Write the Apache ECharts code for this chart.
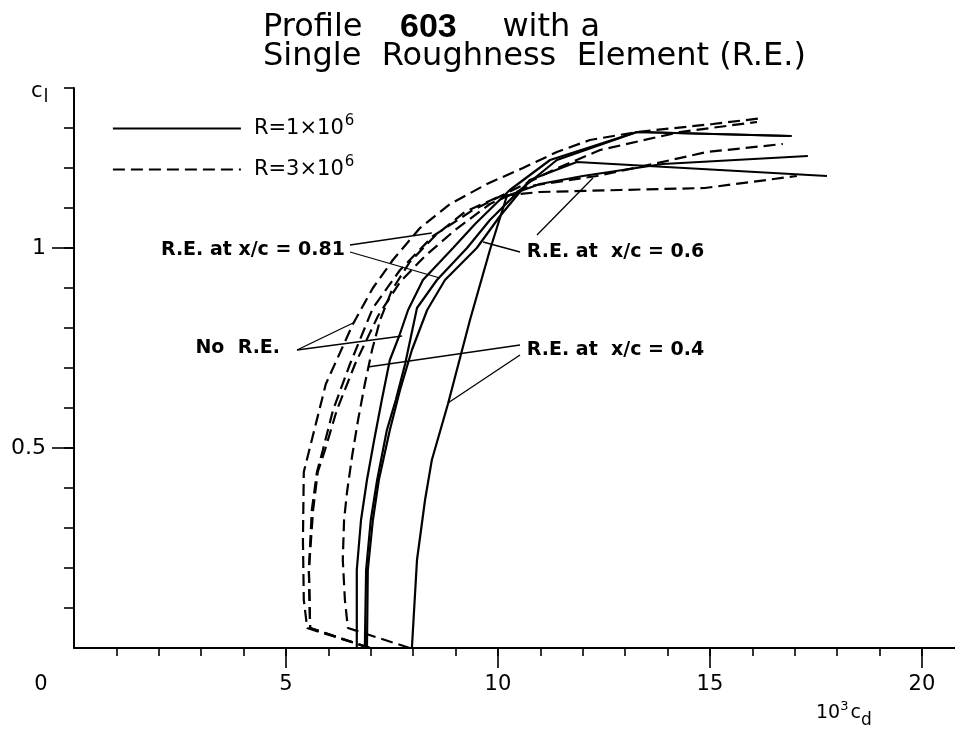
<!DOCTYPE html>
<html><head><meta charset="utf-8">
<script src="https://cdn.jsdelivr.net/npm/echarts@6/dist/echarts.min.js"></script>
<style>html,body{margin:0;padding:0;background:#fff}#c{width:955px;height:731px}</style>
</head><body><div id="c"></div>
<script>
// ---------- data (x = 10^3 c_d, y = c_l) ----------
const noRE_R1  = [[6.67,0],[6.67,0.195],[6.77,0.32],[6.91,0.42],[7.08,0.52],[7.26,0.62],[7.45,0.72],[7.67,0.78],[7.88,0.845],[8.23,0.92],[8.94,1.00],[9.46,1.06],[10.28,1.145],[11.23,1.22],[13.28,1.29],[16.93,1.28]];
const re081_R1 = [[6.86,0],[6.89,0.195],[7.00,0.32],[7.15,0.42],[7.38,0.545],[7.59,0.62],[7.81,0.71],[8.09,0.85],[8.56,0.92],[9.27,1.00],[9.81,1.07],[10.52,1.145],[11.39,1.22],[13.28,1.29],[16.86,1.28]];
const re06_R1  = [[6.91,0],[6.93,0.195],[7.05,0.32],[7.19,0.42],[7.45,0.545],[7.69,0.645],[7.97,0.745],[8.33,0.845],[8.75,0.92],[9.50,1.00],[10.05,1.08],[10.75,1.17],[11.86,1.215],[17.76,1.18]];
const re04_R1  = [[7.97,0],[8.09,0.22],[8.28,0.37],[8.44,0.47],[8.82,0.61],[9.34,0.82],[9.81,0.995],[10.21,1.13],[10.99,1.16],[12.00,1.18],[13.89,1.21],[17.31,1.23]];
const noRE_R3  = [[6.98,0],[5.50,0.05],[5.42,0.12],[5.40,0.27],[5.42,0.44],[5.94,0.66],[6.58,0.81],[7.05,0.90],[7.52,0.97],[8.16,1.05],[8.87,1.11],[9.74,1.16],[10.59,1.20],[11.39,1.24],[12.17,1.27],[13.28,1.29],[15.07,1.31],[16.25,1.325]];
const re081_R3 = [[6.98,0],[5.57,0.05],[5.54,0.195],[5.61,0.345],[5.73,0.44],[5.87,0.495],[6.11,0.595],[6.51,0.71],[7.05,0.85],[7.69,0.945],[8.47,1.03],[9.41,1.095],[10.35,1.145],[11.30,1.195],[12.41,1.245],[14.29,1.29],[16.11,1.315]];
const re06_R3  = [[6.98,0],[5.57,0.05],[5.54,0.195],[5.64,0.345],[5.75,0.44],[5.92,0.495],[6.20,0.595],[6.63,0.71],[7.17,0.83],[7.69,0.915],[8.28,0.98],[8.99,1.045],[9.81,1.11],[10.75,1.155],[12.33,1.18],[13.66,1.21],[14.93,1.24],[16.72,1.26]];
const re04_R3  = [[7.92,0],[6.46,0.05],[6.39,0.12],[6.34,0.22],[6.37,0.32],[6.44,0.39],[6.56,0.48],[6.70,0.57],[6.86,0.66],[7.03,0.745],[7.22,0.82],[7.50,0.895],[7.92,0.965],[8.51,1.03],[9.22,1.09],[10.05,1.13],[10.99,1.14],[12.88,1.145],[14.88,1.15],[17.05,1.18]];

// ---------- axis ticks / labels ----------
const xMinorTicks = [1,2,3,4,5,6,7,8,9,10,11,12,13,14,15,16,17,18,19,20];
const xMajorTicks = [5,10,15,20];
const xTickLabels = [0,5,10,15,20];
const yMinorTicks = [0.1,0.2,0.3,0.4,0.5,0.6,0.7,0.8,0.9,1.0,1.1,1.2,1.3,1.4];
const yMajorTicks = [0.5,1];
const yTickLabels = [0.5,1];

// ---------- annotations (data coords) ----------
const annLeft  = [ {name:'R.E. at x/c = 0.81', value:[6.39,0.995]}, {name:'No  R.E.', value:[4.86,0.75]} ];
const annRight = [ {name:'R.E. at  x/c = 0.6', value:[10.68,0.99]}, {name:'R.E. at  x/c = 0.4', value:[10.68,0.745]} ];
const leaders = [
  [[6.51,1.0075],[8.44,1.0375]], [[6.51,0.99],[8.63,0.925]],
  [[10.52,0.99],[9.65,1.015]], [[10.92,1.0325],[12.24,1.175]],
  [[5.26,0.745],[6.63,0.815]], [[5.26,0.745],[7.74,0.78]],
  [[10.52,0.7575],[6.93,0.7025]], [[10.52,0.7325],[8.82,0.6125]]
];

const R1 = 'R=1×10⁶', R3 = 'R=3×10⁶';
const FONT = 'DejaVu Sans';
const solid = {color:'#000', width:2.2, type:'solid'};
const dashed = {color:'#000', width:2.2, type:[12,6]};

function curve(name, data, ls){
  return {type:'line', name, data, symbol:'none', lineStyle:ls, color:'#000', silent:true, animation:false, z:3};
}
const annLabel = {show:true, distance:0, formatter:'{b}', fontFamily:FONT, fontWeight:'bold', fontSize:19, color:'#000', opacity:1};

const chart = echarts.init(document.getElementById('c'), null, {renderer:'canvas'});
chart.setOption({
  animation:false,
  backgroundColor:'#fff',
  title:{
    left:263, top:13, padding:0,
    text:'{a|Profile   }{b|603}{a|    with a}\n{a|Single  Roughness  Element (R.E.)}',
    textStyle:{rich:{
      a:{fontFamily:FONT, fontWeight:'normal', fontSize:32, color:'#000', lineHeight:29},
      b:{fontFamily:'Liberation Sans', fontWeight:'bold', fontSize:34, color:'#000', lineHeight:29, padding:[0,5,0,7]}
    }}
  },
  legend:{
    left:112, top:114, padding:0, orient:'vertical', itemWidth:128, itemHeight:14, itemGap:16,
    selectedMode:false, data:[R1,R3],
    itemStyle:{color:'rgba(0,0,0,0)', borderColor:'rgba(0,0,0,0)', borderWidth:0, opacity:0},
    lineStyle:{width:1.8},
    formatter: n => '{n|' + n.replace('⁶','') + '}{s|6}',
    textStyle:{rich:{
      n:{fontFamily:FONT, fontSize:21, color:'#000', padding:[0,0,0,8]},
      s:{fontFamily:FONT, fontSize:15, color:'#000', padding:[0,0,14,1]}
    }}
  },
  grid:{left:74, right:0, top:88, bottom:83, containLabel:false},
  xAxis:[
    {type:'value', min:0, max:20.78, position:'bottom',
     axisLine:{show:true, onZero:false, lineStyle:{color:'#000', width:2}},
     axisTick:{show:true, customValues:xMinorTicks, length:8, lineStyle:{color:'#000', width:1.6}},
     axisLabel:{show:false}, splitLine:{show:false}},
    {type:'value', min:0, max:20.78, position:'bottom',
     axisLine:{show:false},
     axisTick:{show:true, customValues:xMajorTicks, length:20, lineStyle:{color:'#000', width:1.6}},
     axisLabel:{show:true, customValues:xTickLabels, margin:26, fontFamily:FONT, fontSize:21, color:'#000',
       formatter: v => v === 0 ? '{z|0}' : String(v),
       rich:{z:{fontFamily:FONT, fontSize:21, color:'#000', padding:[0,66,0,0]}}},
     splitLine:{show:false}}
  ],
  yAxis:[
    {type:'value', min:0, max:1.4, position:'left',
     axisLine:{show:true, onZero:false, lineStyle:{color:'#000', width:2}},
     axisTick:{show:true, customValues:yMinorTicks, length:10, lineStyle:{color:'#000', width:1.6}},
     axisLabel:{show:false}, splitLine:{show:false}},
    {type:'value', min:0, max:1.4, position:'left',
     axisLine:{show:false},
     axisTick:{show:true, customValues:yMajorTicks, length:22, lineStyle:{color:'#000', width:1.6}},
     axisLabel:{show:true, customValues:yTickLabels, margin:28, fontFamily:FONT, fontSize:22, color:'#000'},
     splitLine:{show:false}}
  ],
  graphic:[
    {type:'text', left:31, top:81, style:{text:'{c|c}{l|l}', rich:{
      c:{fontFamily:FONT, fontSize:21, fill:'#000'},
      l:{fontFamily:FONT, fontSize:18, fill:'#000', padding:[12,0,0,1]}}}},
    {type:'text', left:816, top:700, style:{text:'{n|10}{u|3}{n|c}{d|d}', rich:{
      n:{fontFamily:FONT, fontSize:19, fill:'#000'},
      u:{fontFamily:FONT, fontSize:13, fill:'#000', padding:[0,2,14,0]},
      d:{fontFamily:FONT, fontSize:17, fill:'#000', padding:[14,0,0,0]}}}}
  ],
  series:[
    curve(R1, noRE_R1, solid),
    curve(R1, re081_R1, solid),
    curve(R1, re06_R1, solid),
    curve(R1, re04_R1, solid),
    curve(R3, noRE_R3, dashed),
    curve(R3, re081_R3, dashed),
    curve(R3, re06_R3, dashed),
    curve(R3, re04_R3, dashed),
    {type:'lines', coordinateSystem:'cartesian2d', silent:true, z:2,
     lineStyle:{color:'#000', width:1.3, opacity:1},
     data: leaders.map(c => ({coords:c}))},
    {type:'scatter', name:'annL', data:annLeft, symbolSize:0, silent:true, itemStyle:{opacity:1},
     label:Object.assign({position:'left'}, annLabel)},
    {type:'scatter', name:'annR', data:annRight, symbolSize:0, silent:true, itemStyle:{opacity:1},
     label:Object.assign({position:'right'}, annLabel)}
  ]
});
</script>
</body></html>
